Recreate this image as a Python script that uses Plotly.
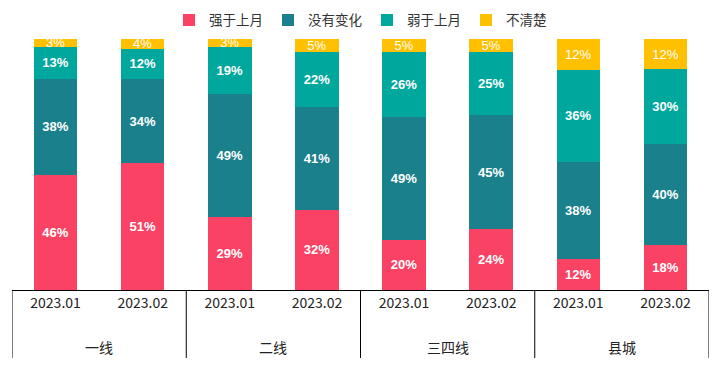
import plotly.graph_objects as go

groups = ["一线", "二线", "三四线", "县城"]
months = ["2023.01", "2023.02"]
series_names = ["强于上月", "没有变化", "弱于上月", "不清楚"]
stronger = [46, 51, 29, 32, 20, 24, 12, 18]
unchanged = [38, 34, 49, 41, 49, 45, 38, 40]
weaker = [13, 12, 19, 22, 26, 25, 36, 30]
unclear = [3, 4, 3, 5, 5, 5, 12, 12]
colors = ["#FA4264", "#19808C", "#00A79D", "#FFC000"]

n = len(groups) * len(months)
xs = list(range(n))
tick_text = months * len(groups)

fig = go.Figure()
for i, (name, vals, col) in enumerate(zip(series_names, [stronger, unchanged, weaker, unclear], colors)):
    fig.add_trace(go.Bar(
        x=xs, y=vals, name=name, marker_color=col,
        marker_line_width=0,
        text=[f"{v}%" for v in vals], textposition="inside",
        insidetextanchor="middle", constraintext="none",
        textfont=dict(color="white", size=13,
                      family="Liberation Sans", weight=("normal" if i == 3 else "bold")),
        width=0.5,
    ))

# page body has an 8px margin, so the figure is 716x360 placed at (8,8)
fig.update_layout(
    barmode="stack", barnorm="percent",
    width=716, height=360,
    margin=dict(l=4, r=15, t=31, b=78, autoexpand=False),
    plot_bgcolor="white", paper_bgcolor="white",
    uniformtext=dict(minsize=12, mode="show"),
    legend=dict(orientation="h", x=0.5, xanchor="center", y=1.075, yanchor="middle",
                traceorder="normal",
                font=dict(size=13.5, family="Noto Sans CJK SC", color="#333"),
                itemwidth=30),
    font=dict(family="Noto Sans CJK SC", size=14, color="#222"),
)

m = len(months)
for g_i, g in enumerate(groups):
    fig.add_annotation(x=g_i * m + (m - 1) / 2, y=-0.227, xref="x", yref="paper",
                       text=g, showarrow=False, yanchor="middle",
                       font=dict(size=14, family="Noto Sans CJK SC", color="#222"))
for b in range(len(groups) + 1):
    fig.add_shape(type="line", xref="x", yref="paper", x0=b * m - 0.5, x1=b * m - 0.5,
                  y0=0, y1=-0.271, line=dict(color="black", width=1))

fig.update_xaxes(range=[-0.5, n - 0.5], tickmode="array", tickvals=xs, ticktext=tick_text,
                 showline=True, linecolor="black", linewidth=1, showgrid=False,
                 ticks="", tickfont=dict(size=14, family="Noto Sans CJK SC", color="#222"))
fig.update_yaxes(visible=False, range=[0, 100])
fig.write_html("out.html")
